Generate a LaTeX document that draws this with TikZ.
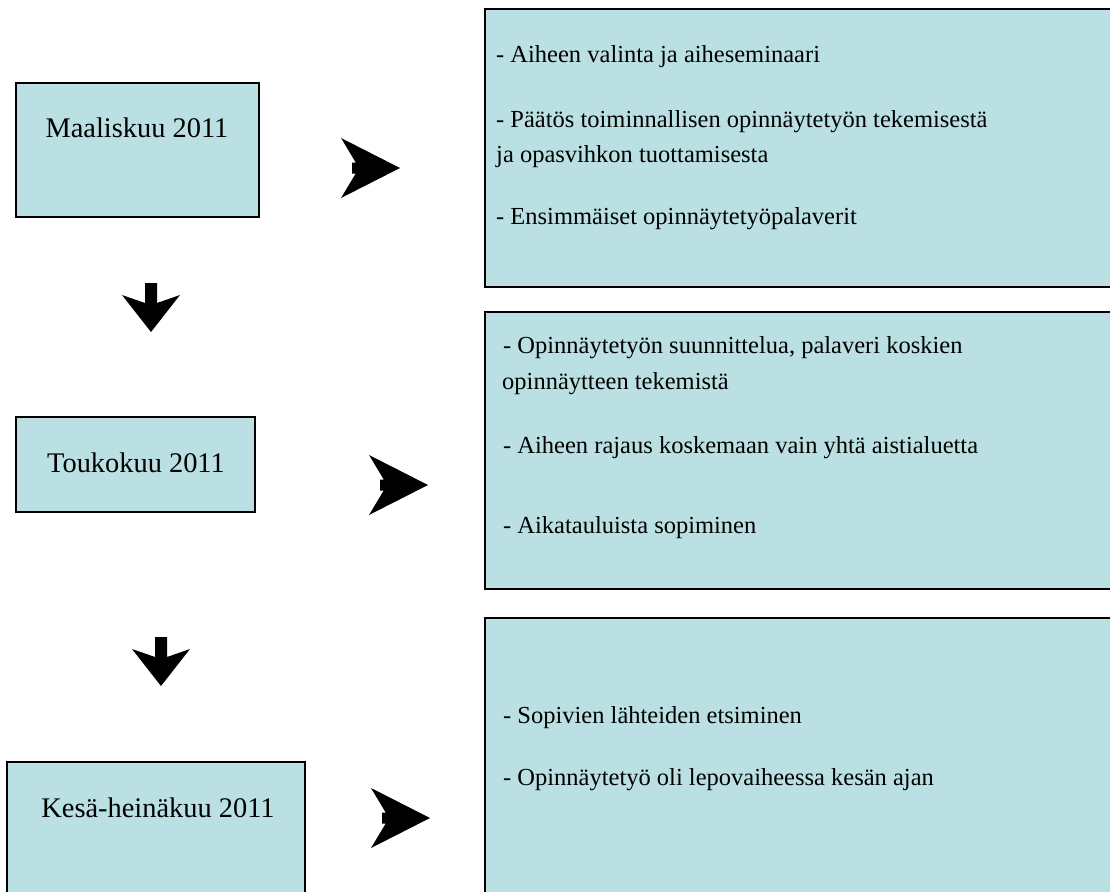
\documentclass[tikz,border=0pt]{standalone}
\usepackage{fontspec}
\setmainfont{Liberation Serif}
\definecolor{boxfill}{RGB}{186,224,227}
\tikzset{
  % solid block arrow pointing right, origin at the tip
  rightblock/.pic={
    \fill[black] (0,0) -- (-59,-30) -- (-44.3,-5.5) -- (-48,-5.5) -- (-48,5.5)
      -- (-44.3,5.5) -- (-59,30) -- cycle;
  },
  % solid block arrow pointing down, origin at the tip
  downblock/.pic={
    \fill[black] (0,0) -- (-29,-37) -- (-6,-29) -- (-6,-49) -- (6,-49)
      -- (6,-29) -- (29,-37) -- cycle;
  }
}
\begin{document}
\begin{tikzpicture}[x=1pt,y=-1pt,
  panel/.style={draw=black, line width=1.4pt, fill=boxfill, anchor=north west,
    inner sep=0pt, outer sep=0pt},
  monthtext/.style={font=\fontsize{28.4}{34}\selectfont, anchor=base, inner sep=0pt},
  itemtext/.style={font=\fontsize{24.5}{35.5}\selectfont, anchor=base west, inner sep=0pt}]
\useasboundingbox (0,0) rectangle (1110,891);

% month boxes on the left
\node[panel, minimum width=243pt, minimum height=134pt] (m1) at (16,83) {};
\node[panel, minimum width=239pt, minimum height=95pt] (m2) at (16,417) {};
\node[panel, minimum width=298pt, minimum height=140pt] (m3) at (7,762) {};

\node[monthtext] (m1t) at (137,137) {Maaliskuu 2011};
\node[monthtext] (m2t) at (136,472) {Toukokuu 2011};
\node[monthtext] (m3t) at (158,817) {Kesä-heinäkuu 2011};

% task boxes on the right
\node[panel, minimum width=630pt, minimum height=278pt] (t1) at (485,9) {};
\node[panel, minimum width=630pt, minimum height=277pt] (t2) at (485,312) {};
\node[panel, minimum width=630pt, minimum height=290pt] (t3) at (485,618) {};

\node[itemtext] (t1a) at (496,63) {- Aiheen valinta ja aiheseminaari};
\node[itemtext] (t1b) at (496,127) {- Päätös toiminnallisen opinnäytetyön tekemisestä};
\node[itemtext] (t1c) at (496,162) {ja opasvihkon tuottamisesta};
\node[itemtext] (t1d) at (496,224) {- Ensimmäiset opinnäytetyöpalaverit};

\node[itemtext] (t2a) at (503,353) {- Opinnäytetyön suunnittelua, palaveri koskien};
\node[itemtext] (t2b) at (502,389) {opinnäytteen tekemistä};
\node[itemtext] (t2c) at (503,453) {- Aiheen rajaus koskemaan vain yhtä aistialuetta};
\node[itemtext] (t2d) at (503,533) {- Aikatauluista sopiminen};

\node[itemtext] (t3a) at (503,723) {- Sopivien lähteiden etsiminen};
\node[itemtext] (t3b) at (503,785) {- Opinnäytetyö oli lepovaiheessa kesän ajan};

% block arrows
\pic at (400,168) {rightblock};
\pic at (428,485) {rightblock};
\pic at (430,818) {rightblock};
\pic at (151,332) {downblock};
\pic at (161,686) {downblock};
\end{tikzpicture}
\end{document}
